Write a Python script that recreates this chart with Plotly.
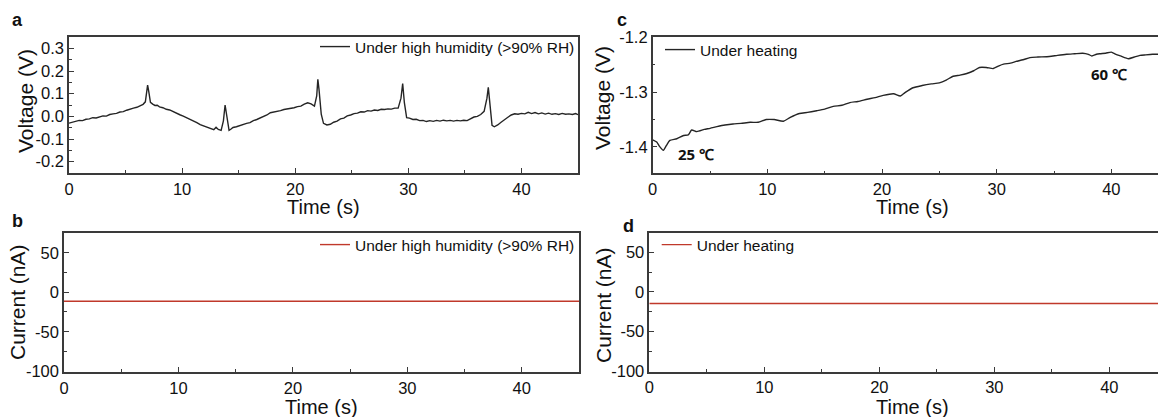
import plotly.graph_objects as go

# ---- (a) open-circuit voltage under high humidity ----
time_a = [0.0, 0.3, 0.6, 0.9, 1.2, 1.5, 1.8, 2.1, 2.4, 2.7,
          3.0, 3.3, 3.6, 3.9, 4.2, 4.5, 4.8, 5.1, 5.4, 5.7,
          6.0, 6.3, 6.55, 6.75, 6.85, 6.95, 7.05, 7.2, 7.4, 7.6,
          7.8, 8.0, 8.3, 8.6, 8.9, 9.2, 9.5, 9.8, 10.1, 10.4,
          10.7, 11.0, 11.3, 11.6, 11.9, 12.2, 12.5, 12.8, 13.0, 13.2,
          13.45, 13.65, 13.8, 13.95, 14.15, 14.3, 14.5, 14.8, 15.1, 15.4,
          15.7, 16.0, 16.3, 16.6, 16.9, 17.2, 17.5, 17.8, 18.1, 18.4,
          18.7, 19.0, 19.3, 19.6, 19.9, 20.2, 20.5, 20.8, 21.1, 21.4,
          21.7, 21.9, 22.0, 22.1, 22.3, 22.5, 22.8, 23.1, 23.4, 23.7,
          24.0, 24.3, 24.6, 24.9, 25.2, 25.5, 25.8, 26.1, 26.4, 26.7,
          27.0, 27.3, 27.6, 27.9, 28.2, 28.5, 28.8, 29.1, 29.35, 29.5,
          29.65, 29.85, 30.1, 30.4, 30.7, 31.0, 31.3, 31.6, 31.9, 32.2,
          32.5, 32.8, 33.1, 33.4, 33.7, 34.0, 34.3, 34.6, 34.9, 35.2,
          35.5, 35.8, 36.1, 36.4, 36.7, 36.95, 37.07, 37.2, 37.4, 37.6,
          37.9, 38.2, 38.5, 38.8, 39.1, 39.4, 39.7, 40.0, 40.3, 40.6,
          40.9, 41.2, 41.5, 41.8, 42.1, 42.4, 42.7, 43.0, 43.3, 43.6,
          43.9, 44.2, 44.5, 44.8, 45.0]
volt_a = [-0.030, -0.026, -0.024, -0.018, -0.019, -0.013, -0.011, -0.006, -0.007, -0.001,
          0.002, 0.001, 0.008, 0.011, 0.013, 0.019, 0.021, 0.027, 0.030, 0.036,
          0.040, 0.046, 0.053, 0.064, 0.105, 0.138, 0.110, 0.062, 0.054, 0.048,
          0.049, 0.042, 0.038, 0.031, 0.028, 0.020, 0.012, 0.007, 0.001, -0.006,
          -0.012, -0.022, -0.028, -0.037, -0.042, -0.050, -0.055, -0.059, -0.048, -0.058,
          -0.062, -0.020, 0.050, -0.005, -0.062, -0.057, -0.049, -0.046, -0.040, -0.037,
          -0.031, -0.028, -0.019, -0.014, -0.008, -0.001, 0.006, 0.016, 0.019, 0.020,
          0.025, 0.030, 0.032, 0.036, 0.038, 0.043, 0.045, 0.054, 0.060, 0.055,
          0.045, 0.090, 0.163, 0.120, 0.010, -0.031, -0.038, -0.035, -0.026, -0.021,
          -0.011, -0.008, 0.002, 0.006, 0.012, 0.014, 0.020, 0.019, 0.025, 0.023,
          0.028, 0.026, 0.031, 0.030, 0.033, 0.032, 0.036, 0.036, 0.080, 0.145,
          0.060, -0.006, -0.008, -0.014, -0.013, -0.019, -0.018, -0.023, -0.019, -0.022,
          -0.018, -0.021, -0.017, -0.020, -0.018, -0.021, -0.018, -0.020, -0.017, -0.019,
          -0.012, -0.003, 0.000, 0.008, 0.022, 0.080, 0.128, 0.060, -0.040, -0.046,
          -0.038, -0.026, -0.013, -0.004, 0.006, 0.011, 0.009, 0.013, 0.011, 0.018,
          0.012, 0.017, 0.011, 0.015, 0.010, 0.014, 0.009, 0.012, 0.008, 0.013,
          0.009, 0.011, 0.008, 0.012, 0.007]
assert len(time_a) == len(volt_a)

# ---- (b) short-circuit current under high humidity ----
time_b = [0, 10, 20, 30, 30.8, 31.2, 31.6, 37.5, 38.2, 38.8, 39.5, 40.2, 40.9, 41.6, 42.3, 43.0, 45]
curr_b = [-11.5, -11.5, -11.5, -11.5, -11.5, -12.4, -11.5, -11.5, -12.3, -11.6, -12.4, -11.5, -12.2, -11.7, -11.5, -11.5, -11.5]

# ---- (c) open-circuit voltage under heating ----
time_c = [0, 0.35, 0.6, 0.93, 1.2, 1.5, 2.1, 2.7, 3.1, 3.4,
          3.85, 4.5, 5.0, 5.6, 6.3, 7.0, 7.7, 8.5, 9.2, 9.9,
          10.6, 11.4, 12.0, 12.8, 13.5, 14.3, 15.0, 15.75, 16.5, 17.2,
          17.9, 18.7, 19.4, 20.1, 21.0, 21.6, 22.0, 22.7, 23.5, 24.3,
          25.0, 25.6, 26.2, 26.8, 27.4, 28.0, 28.5, 29.1, 29.7, 30.2,
          30.6, 31.2, 31.7, 32.3, 32.9, 33.6, 34.6, 35.3, 36.1, 36.8,
          37.5, 38.0, 38.3, 38.7, 39.0, 39.5, 40.0, 40.4, 40.8, 41.5,
          42.0, 42.5, 43.0, 43.6, 44.1]
volt_c = [-1.387, -1.391, -1.399, -1.406, -1.397, -1.388, -1.385, -1.379, -1.378, -1.369,
          -1.372, -1.368, -1.366, -1.363, -1.360, -1.358, -1.357, -1.355, -1.355, -1.350,
          -1.350, -1.353, -1.346, -1.339, -1.337, -1.334, -1.331, -1.326, -1.324, -1.319,
          -1.317, -1.313, -1.310, -1.306, -1.303, -1.307, -1.301, -1.292, -1.288, -1.285,
          -1.283, -1.278, -1.271, -1.269, -1.266, -1.261, -1.255, -1.255, -1.257, -1.252,
          -1.249, -1.247, -1.244, -1.241, -1.237, -1.236, -1.235, -1.233, -1.231, -1.230,
          -1.229, -1.231, -1.234, -1.231, -1.230, -1.229, -1.227, -1.231, -1.234, -1.239,
          -1.236, -1.233, -1.232, -1.231, -1.231]
assert len(time_c) == len(volt_c)

# ---- (d) short-circuit current under heating ----
time_d = [0, 15, 30, 45]
curr_d = [-14.7, -14.7, -14.7, -14.7]

x_ticks = [0, 10, 20, 30, 40]
va_ticks = [-0.2, -0.1, 0.0, 0.1, 0.2, 0.3]
va_text = ["-0.2", "-0.1", "0.0", "0.1", "0.2", "0.3"]
vc_ticks = [-1.4, -1.3, -1.2]
vc_text = ["-1.4", "-1.3", "-1.2"]
i_ticks = [-100, -50, 0, 50]
i_text = ["-100", "-50", "0", "50"]

LEG_HUM = "Under high humidity (>90% RH)"
LEG_HEAT = "Under heating"

FONT = "Arial, Liberation Sans, sans-serif"
AX = "#3a3a3a"
BLACK = "#252525"
RED = "#c0392b"
W, H = 1158, 417

fig = go.Figure()
fig.add_trace(go.Scatter(x=time_a, y=volt_a, mode="lines", name=LEG_HUM,
                         line=dict(color=BLACK, width=1.4), xaxis="x", yaxis="y", legend="legend"))
fig.add_trace(go.Scatter(x=time_b, y=curr_b, mode="lines", name=LEG_HUM,
                         line=dict(color=RED, width=1.4), xaxis="x2", yaxis="y2", legend="legend2"))
fig.add_trace(go.Scatter(x=time_c, y=volt_c, mode="lines", name=LEG_HEAT,
                         line=dict(color=BLACK, width=1.4, shape="spline", smoothing=0.6),
                         xaxis="x3", yaxis="y3", legend="legend3"))
fig.add_trace(go.Scatter(x=time_d, y=curr_d, mode="lines", name=LEG_HEAT,
                         line=dict(color=RED, width=1.4), xaxis="x4", yaxis="y4", legend="legend4"))


def px_x(p):
    return p / W


def px_y(p):
    return 1 - p / H


def xaxis(dom, rng, anchor, mirror=True):
    return dict(domain=dom, range=rng, anchor=anchor, tickvals=x_ticks, automargin=False,
                ticks="inside", ticklen=5, tickwidth=1.2, tickcolor=AX,
                minor=dict(ticks="inside", ticklen=3, tickwidth=1.1, tickcolor=AX, dtick=5, tick0=0),
                showline=True, linecolor=AX, linewidth=1.5, mirror=mirror,
                showgrid=False, zeroline=False,
                tickfont=dict(family=FONT, size=16.5, color="#111"))


def yaxis(dom, rng, anchor, vals, text, minor_dt, mirror=True):
    return dict(domain=dom, range=rng, anchor=anchor, tickvals=vals, ticktext=text, automargin=False,
                ticks="inside", ticklen=5, tickwidth=1.2, tickcolor=AX,
                minor=dict(ticks="inside", ticklen=3, tickwidth=1.1, tickcolor=AX, dtick=minor_dt, tick0=0),
                showline=True, linecolor=AX, linewidth=1.5, mirror=mirror,
                showgrid=False, zeroline=False,
                tickfont=dict(family=FONT, size=16.5, color="#111"))


def legend(x, y, xanchor):
    return dict(x=x, y=y, xanchor=xanchor, yanchor="middle", bgcolor="rgba(0,0,0,0)",
                borderwidth=0, font=dict(family=FONT, size=15.5, color="#111"))


fig.update_layout(
    width=W, height=H, margin=dict(l=0, r=0, t=0, b=0, pad=0, autoexpand=False),
    paper_bgcolor="white", plot_bgcolor="white",
    showlegend=True,
    xaxis=xaxis([px_x(69), px_x(578)], [0, 45], "y"),
    yaxis=yaxis([px_y(173), px_y(37)], [-0.25, 0.35], "x", va_ticks, va_text, 0.05),
    xaxis2=xaxis([px_x(64), px_x(579)], [0, 45], "y2"),
    yaxis2=yaxis([px_y(372), px_y(233)], [-101, 75], "x2", i_ticks, i_text, 25),
    xaxis3=xaxis([px_x(652.7), 1.0], [0, 44.07], "y3"),
    yaxis3=yaxis([px_y(173.3), px_y(37.3)], [-1.448, -1.2], "x3", vc_ticks, vc_text, 0.05, mirror=False),
    xaxis4=xaxis([px_x(649.3), 1.0], [0, 44.23], "y4"),
    yaxis4=yaxis([px_y(371.7), px_y(232.7)], [-101, 75], "x4", i_ticks, i_text, 25, mirror=False),
    legend=legend(px_x(580), px_y(47), "right"),
    legend2=legend(px_x(580), px_y(245), "right"),
    legend3=legend(px_x(660), px_y(50), "left"),
    legend4=legend(px_x(656.7), px_y(245), "left"),
)


def label(text, x, y, size, angle=0, family=FONT):
    fig.add_annotation(text=text, x=px_x(x), y=px_y(y), xref="paper", yref="paper",
                       showarrow=False, xanchor="center", yanchor="middle", textangle=angle,
                       font=dict(family=family, size=size, color="#111"))


# axis titles
for x, y in [(323.5, 207), (321.5, 407), (912.5, 207), (912.5, 407)]:
    label("Time (s)", x, y, 20)
label("Voltage (V)", 25, 101, 21, -90)
label("Voltage (V)", 603, 98, 21, -90)
label("Current (nA)", 17, 302, 21, -90)
label("Current (nA)", 603, 305, 21, -90)

# panel letters
for letter, x, y in [("a", 17, 20), ("b", 17, 221), ("c", 622, 20), ("d", 628, 226)]:
    label(f"<b>{letter}</b>", x, y, 18)

# temperature labels on panel c
for text, t, v in [("25 ℃", 3.78, -1.412), ("60 ℃", 39.8, -1.2676)]:
    fig.add_annotation(text=f"<b>{text}</b>", x=t, y=v, xref="x3", yref="y3", showarrow=False,
                       font=dict(family="Open Sans, Liberation Sans, sans-serif", size=15, color="#111"))

fig.write_html("out.html")
